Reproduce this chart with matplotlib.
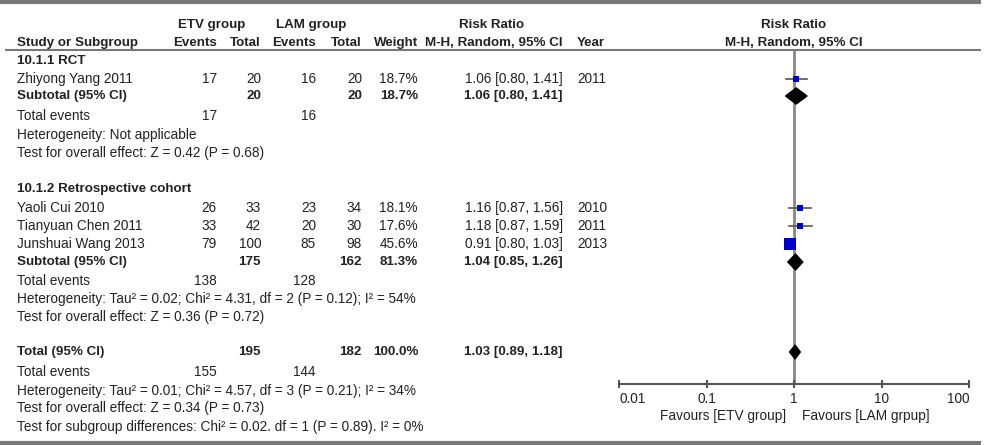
import numpy as np
import matplotlib
matplotlib.use('Agg')
import matplotlib.pyplot as plt

plt.rcParams['font.family'] = ['Liberation Sans', 'DejaVu Sans']

# Datos de los estudios
estudios = ['Zhiyong Yang 2011', 'Yaoli Cui 2010', 'Tianyuan Chen 2011', 'Junshuai Wang 2013']
grupoEstudio = [0, 1, 1, 1]
etvEventos = [17, 26, 33, 79]
etvTotal = [20, 33, 42, 100]
lamEventos = [16, 23, 20, 85]
lamTotal = [20, 34, 30, 98]
pesos = [18.7, 18.1, 17.6, 45.6]
rr = [1.06, 1.16, 1.18, 0.91]
rrBajo = [0.80, 0.87, 0.87, 0.80]
rrAlto = [1.41, 1.56, 1.59, 1.03]
anios = [2011, 2010, 2011, 2013]

# Subgrupos
subgrupos = ['10.1.1 RCT', '10.1.2 Retrospective cohort']
subEtvEventos = [17, 138]
subEtvTotal = [20, 175]
subLamEventos = [16, 128]
subLamTotal = [20, 162]
subPesos = [18.7, 81.3]
subRR = [1.06, 1.04]
subBajo = [0.80, 0.85]
subAlto = [1.41, 1.26]
subHeterogeneidad = ['Heterogeneity: Not applicable',
                     'Heterogeneity: Tau\u00b2 = 0.02; Chi\u00b2 = 4.31, df = 2 (P = 0.12); I\u00b2 = 54%']
subEfecto = ['Test for overall effect: Z = 0.42 (P = 0.68)',
             'Test for overall effect: Z = 0.36 (P = 0.72)']

# Total
totEtvEventos, totEtvTotal = 155, 195
totLamEventos, totLamTotal = 144, 182
totPeso = 100.0
totRR, totBajo, totAlto = 1.03, 0.89, 1.18
totHeterogeneidad = 'Heterogeneity: Tau\u00b2 = 0.01; Chi\u00b2 = 4.57, df = 3 (P = 0.21); I\u00b2 = 34%'
totEfecto = 'Test for overall effect: Z = 0.34 (P = 0.73)'
totSubgrupos = 'Test for subgroup differences: Chi\u00b2 = 0.02. df = 1 (P = 0.89). I\u00b2 = 0%'

escalaTicks = [0.01, 0.1, 1, 10, 100]
escalaEtiquetas = ['0.01', '0.1', '1', '10', '100']

# Posiciones verticales de las filas (pixeles desde arriba)
filaCabecera = [61, 189]
filaEstudio = [79, 208, 226, 244]
filaSubtotal = [96, 262]
filaEventos = [116, 281]
filaHet = [135, 299]
filaEfecto = [153, 317]
filaTotal, filaTotEventos, filaTotHet, filaTotEfecto, filaTotSub = 352, 372, 391, 408, 427

colorTexto = '#222222'
colorLinea = '#777777'
fs = 9.8
fsBold = 9.6

fig = plt.figure(figsize=(10, 4.45), dpi=100)
ax = fig.add_axes([0, 0, 1, 1])
ax.set_xlim(0, 1000)
ax.set_ylim(445, 0)
ax.axis('off')

def texto(x, y, s, ha='left', bold=False, size=None):
    if size is None:
        size = fsBold if bold else fs
    ax.text(x, y, s, ha=ha, va='center', fontsize=size, color=colorTexto,
            fontweight='bold' if bold else 'normal')

# Lineas de borde
ax.plot([0, 981], [1.5, 1.5], color=colorLinea, lw=3, solid_capstyle='butt')
ax.plot([0, 981], [443, 443], color=colorLinea, lw=3, solid_capstyle='butt')
ax.plot([5, 981], [50, 50], color=colorLinea, lw=1.5, solid_capstyle='butt')

# Cabeceras
texto(212, 25, 'ETV group', ha='center', bold=True)
texto(311, 25, 'LAM group', ha='center', bold=True)
texto(492, 25, 'Risk Ratio', ha='center', bold=True)
texto(794, 25, 'Risk Ratio', ha='center', bold=True)
texto(17, 43, 'Study or Subgroup', bold=True)
texto(217, 43, 'Events', ha='right', bold=True)
texto(261, 43, 'Total', ha='right', bold=True)
texto(316, 43, 'Events', ha='right', bold=True)
texto(362, 43, 'Total', ha='right', bold=True)
texto(418, 43, 'Weight', ha='right', bold=True)
texto(563, 43, 'M-H, Random, 95% CI', ha='right', bold=True)
texto(577, 43, 'Year', bold=True)
texto(794, 43, 'M-H, Random, 95% CI', ha='center', bold=True)

# Panel del forest plot con escala logaritmica
yEje, yArriba = 384, 50
fx = fig.add_axes([619 / 1000, (445 - yEje) / 445, 350 / 1000, (yEje - yArriba) / 445])
fx.set_xscale('log')
fx.set_xlim(0.01, 100)
fx.set_ylim(yEje, yArriba)
fx.patch.set_alpha(0)
for lado in ['top', 'left', 'right']:
    fx.spines[lado].set_visible(False)
fx.spines['bottom'].set_color('#555555')
fx.spines['bottom'].set_linewidth(1.5)
fx.set_yticks([])
fx.set_xticks(escalaTicks)
fx.set_xticklabels(escalaEtiquetas)
fx.minorticks_off()
fx.tick_params(axis='x', direction='inout', length=6, width=1.5, color='#555555',
               labelsize=fs, labelcolor=colorTexto, pad=3)
etiquetas = fx.get_xticklabels()
etiquetas[0].set_horizontalalignment('left')
etiquetas[-1].set_horizontalalignment('right')
fx.axvline(1, color='#888888', lw=2, zorder=1)

def diamante(y, c, lo, hi, h):
    fx.fill([lo, c, hi, c], [y, y - h, y, y + h], color='black', zorder=3)

for g in range(len(subgrupos)):
    texto(17, filaCabecera[g], subgrupos[g], bold=True)
    for i in range(len(estudios)):
        if grupoEstudio[i] != g:
            continue
        y = filaEstudio[i]
        texto(17, y, estudios[i])
        texto(217, y, str(etvEventos[i]), ha='right')
        texto(261, y, str(etvTotal[i]), ha='right')
        texto(316, y, str(lamEventos[i]), ha='right')
        texto(362, y, str(lamTotal[i]), ha='right')
        texto(418, y, '%.1f%%' % pesos[i], ha='right')
        texto(563, y, '%.2f [%.2f, %.2f]' % (rr[i], rrBajo[i], rrAlto[i]), ha='right')
        texto(577, y, str(anios[i]))
        fx.plot([rrBajo[i], rrAlto[i]], [y, y], color='#555555', lw=1.2, zorder=2)
        fx.plot(rr[i], y, marker='s', color='#0000cc', markersize=2 + pesos[i] * 0.14,
                markeredgewidth=0, zorder=4)
    y = filaSubtotal[g]
    texto(17, y, 'Subtotal (95% CI)', bold=True)
    texto(261, y, str(subEtvTotal[g]), ha='right', bold=True)
    texto(362, y, str(subLamTotal[g]), ha='right', bold=True)
    texto(418, y, '%.1f%%' % subPesos[g], ha='right', bold=True)
    texto(563, y, '%.2f [%.2f, %.2f]' % (subRR[g], subBajo[g], subAlto[g]), ha='right', bold=True)
    diamante(y, subRR[g], subBajo[g], subAlto[g], 8)
    texto(17, filaEventos[g], 'Total events')
    texto(217, filaEventos[g], str(subEtvEventos[g]), ha='right')
    texto(316, filaEventos[g], str(subLamEventos[g]), ha='right')
    texto(17, filaHet[g], subHeterogeneidad[g])
    texto(17, filaEfecto[g], subEfecto[g])

# Fila total
texto(17, filaTotal, 'Total (95% CI)', bold=True)
texto(261, filaTotal, str(totEtvTotal), ha='right', bold=True)
texto(362, filaTotal, str(totLamTotal), ha='right', bold=True)
texto(418, filaTotal, '%.1f%%' % totPeso, ha='right', bold=True)
texto(563, filaTotal, '%.2f [%.2f, %.2f]' % (totRR, totBajo, totAlto), ha='right', bold=True)
diamante(filaTotal, totRR, totBajo, totAlto, 7)
texto(17, filaTotEventos, 'Total events')
texto(217, filaTotEventos, str(totEtvEventos), ha='right')
texto(316, filaTotEventos, str(totLamEventos), ha='right')
texto(17, filaTotHet, totHeterogeneidad)
texto(17, filaTotEfecto, totEfecto)
texto(17, filaTotSub, totSubgrupos)

texto(786, 416, 'Favours [ETV group]', ha='right')
texto(802, 416, 'Favours [LAM grpup]')

fig.savefig('out.png', dpi=100)
